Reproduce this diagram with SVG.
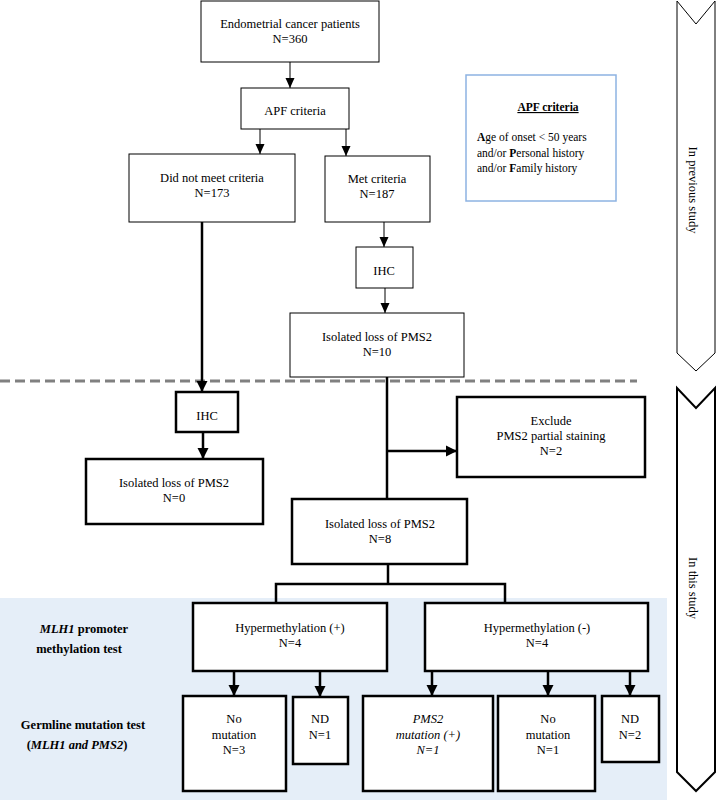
<svg xmlns="http://www.w3.org/2000/svg" width="716" height="800" viewBox="0 0 716 800">
<defs>
<style>
text{font-family:"Liberation Serif","Times New Roman",serif;font-size:12.5px;fill:#000;text-anchor:middle}
.b1{fill:#fff;stroke:#000;stroke-width:1}
.b2{fill:#fff;stroke:#000;stroke-width:2.5}
.c1{fill:none;stroke:#000;stroke-width:1}
.c2{fill:none;stroke:#000;stroke-width:2.5}
.lab{font-weight:bold}
.it{font-style:italic}
text.info{font-size:11.5px;text-anchor:start}
text.infot{font-size:11.5px;font-weight:bold;text-decoration:underline}
</style>
<marker id="ah" markerUnits="userSpaceOnUse" markerWidth="10" markerHeight="10" refX="10" refY="5" orient="auto">
<path d="M0,0.5 L10,5 L0,9.5 z" fill="#000"/>
</marker>
<marker id="ah2" markerUnits="userSpaceOnUse" markerWidth="12" markerHeight="12" refX="11" refY="6" orient="auto">
<path d="M0,0.5 L11,6 L0,11.5 z" fill="#000"/>
</marker>
</defs>
<rect x="0" y="0" width="716" height="800" fill="#fff"/>
<rect id="band" x="0" y="598" width="667" height="202" fill="#e5eef8"/>
<line id="divider" x1="0" y1="381" x2="637" y2="381" stroke="#808080" stroke-width="3" stroke-dasharray="10,5"/>

<g id="phase1">
<polygon points="677,1 696,24 715,1 715,353 696,371 677,353" fill="#fff" stroke="#000" stroke-width="1"/>
<text transform="translate(693,190) rotate(90)" y="4">In previous study</text>
</g>
<g id="phase2">
<polygon points="677,388 696,408 715,388 715,772 696,791 677,772" fill="#fff" stroke="#000" stroke-width="2"/>
<text transform="translate(693,588) rotate(90)" y="4">In this study</text>
</g>

<g id="connectors">
<line class="c1" x1="290" y1="62" x2="290" y2="88" marker-end="url(#ah)"/>
<line class="c1" x1="260" y1="129" x2="260" y2="154" marker-end="url(#ah)"/>
<line class="c1" x1="346" y1="129" x2="346" y2="156" marker-end="url(#ah)"/>
<line class="c1" x1="384" y1="222" x2="384" y2="247" marker-end="url(#ah)"/>
<line class="c1" x1="385" y1="288" x2="385" y2="313" marker-end="url(#ah)"/>
<line class="c2" x1="202" y1="222" x2="202" y2="392" marker-end="url(#ah2)"/>
<line class="c2" x1="203" y1="432" x2="203" y2="459" marker-end="url(#ah2)"/>
<line class="c2" x1="387" y1="377" x2="387" y2="499"/>
<line class="c2" x1="387" y1="451" x2="457" y2="451" marker-end="url(#ah2)"/>
<polyline class="c2" points="388,564 388,584"/>
<polyline class="c2" points="276,603 276,584 505,584 505,603"/>
<line class="c2" x1="234" y1="671" x2="234" y2="696" marker-end="url(#ah2)"/>
<line class="c2" x1="320" y1="671" x2="320" y2="697" marker-end="url(#ah2)"/>
<line class="c2" x1="432" y1="671" x2="432" y2="696" marker-end="url(#ah2)"/>
<line class="c2" x1="548" y1="671" x2="548" y2="696" marker-end="url(#ah2)"/>
<line class="c2" x1="630" y1="671" x2="630" y2="696" marker-end="url(#ah2)"/>
</g>

<g id="n-patients">
<rect class="b1" x="201" y="1" width="178" height="61"/>
<text x="290" y="28">Endometrial cancer patients</text>
<text x="290" y="43">N=360</text>
</g>
<g id="n-apf">
<rect class="b1" x="241" y="88" width="108" height="41"/>
<text x="295" y="115">APF criteria</text>
</g>
<g id="n-notmet">
<rect class="b1" x="129" y="154" width="166" height="68"/>
<text x="212" y="182">Did not meet criteria</text>
<text x="212" y="197">N=173</text>
</g>
<g id="n-met">
<rect class="b1" x="325" y="156" width="105" height="66"/>
<text x="377" y="183">Met criteria</text>
<text x="377" y="198">N=187</text>
</g>
<g id="n-apfinfo">
<rect x="466" y="75" width="150" height="126" fill="#fff" stroke="#8db3e2" stroke-width="1.5"/>
<text class="infot" x="548" y="111">APF criteria</text>
<text class="info" x="477" y="141"><tspan font-weight="bold">A</tspan>ge of onset &lt; 50 years</text>
<text class="info" x="477" y="157">and/or <tspan font-weight="bold">P</tspan>ersonal history</text>
<text class="info" x="477" y="172">and/or <tspan font-weight="bold">F</tspan>amily history</text>
</g>
<g id="n-ihc1">
<rect class="b1" x="356" y="247" width="57" height="41"/>
<text x="384" y="275">IHC</text>
</g>
<g id="n-loss10">
<rect class="b1" x="290" y="313" width="174" height="64"/>
<text x="377" y="341">Isolated loss of PMS2</text>
<text x="377" y="356">N=10</text>
</g>
<g id="n-ihc2">
<rect class="b2" x="176" y="392" width="62" height="40"/>
<text x="207" y="420">IHC</text>
</g>
<g id="n-loss0">
<rect class="b2" x="86" y="459" width="177" height="65"/>
<text x="174" y="487">Isolated loss of PMS2</text>
<text x="174" y="502">N=0</text>
</g>
<g id="n-exclude">
<rect class="b2" x="457" y="397" width="188" height="80"/>
<text x="551" y="425">Exclude</text>
<text x="551" y="440">PMS2 partial staining</text>
<text x="551" y="455">N=2</text>
</g>
<g id="n-loss8">
<rect class="b2" x="292" y="499" width="175" height="65"/>
<text x="380" y="528">Isolated loss of PMS2</text>
<text x="380" y="543">N=8</text>
</g>
<g id="n-hyperpos">
<rect class="b2" x="193" y="603" width="194" height="68"/>
<text x="290" y="632">Hypermethylation (+)</text>
<text x="290" y="647">N=4</text>
</g>
<g id="n-hyperneg">
<rect class="b2" x="425" y="603" width="223" height="68"/>
<text x="537" y="632">Hypermethylation (-)</text>
<text x="537" y="647">N=4</text>
</g>
<g id="n-nomut3">
<rect class="b2" x="183" y="696" width="103" height="95"/>
<text x="234" y="723">No</text>
<text x="234" y="739">mutation</text>
<text x="234" y="754">N=3</text>
</g>
<g id="n-nd1">
<rect class="b2" x="293" y="697" width="55" height="67"/>
<text x="320" y="723">ND</text>
<text x="320" y="739">N=1</text>
</g>
<g id="n-pms2mut">
<rect class="b2" x="363" y="696" width="130" height="95"/>
<text x="428" y="723" class="it">PMS2</text>
<text x="428" y="739" class="it">mutation (+)</text>
<text x="428" y="754" class="it">N=1</text>
</g>
<g id="n-nomut1">
<rect class="b2" x="498" y="696" width="97" height="95"/>
<text x="548" y="723">No</text>
<text x="548" y="739">mutation</text>
<text x="548" y="754">N=1</text>
</g>
<g id="n-nd2">
<rect class="b2" x="602" y="696" width="57" height="66"/>
<text x="630" y="723">ND</text>
<text x="630" y="739">N=2</text>
</g>

<g id="labels">
<text class="lab" x="84" y="633"><tspan font-style="italic">MLH1</tspan>  promoter</text>
<text class="lab" x="79" y="653">methylation test</text>
<text class="lab" x="83" y="729">Germline mutation test</text>
<text class="lab" x="77" y="749">(<tspan font-style="italic">MLH1 and PMS2</tspan>)</text>
</g>
</svg>
